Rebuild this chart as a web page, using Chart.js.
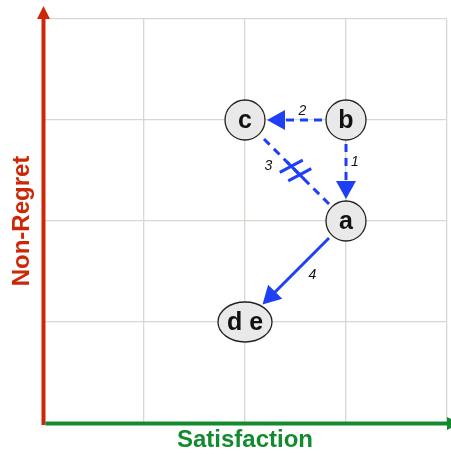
<!DOCTYPE html>
<html>
<head>
<meta charset="utf-8">
<script src="https://cdn.jsdelivr.net/npm/chart.js@4/dist/chart.umd.min.js"></script>
<style>
  body { margin: 0; background: #fff; }
  #wrap { width: 451px; height: 454px; }
</style>
</head>
<body>
<div id="wrap"><canvas id="chart" width="451" height="454"></canvas></div>
<script>
// nodes
var nodeLabels = ['a', 'b', 'c', 'd e'];
var satisfaction = [3, 3, 2, 2];
var nonRegret = [2, 3, 3, 1];

// edges between nodes (indexes into nodeLabels)
var edgeFrom = [1, 1, 0, 0];
var edgeTo = [0, 2, 2, 3];
var edgeLabels = ['1', '2', '3', '4'];
var edgeKind = ['dashed', 'dashed', 'blocked', 'solid'];

var xTitle = 'Satisfaction';
var yTitle = 'Non-Regret';

var RED = '#cc2808';
var GREEN = '#138a2e';
var BLUE = '#1f3ff5';

// drawing stuff (not data)
var nodeRx = [20, 20, 20, 27];
var nodeRy = [20, 20, 20, 20];
var labelOffset = [[9, -8], [7, -9], [-27, -4], [17, 4]];

// ellipse image for the wide node
function ellipseImg(rx, ry) {
    var c = document.createElement('canvas');
    c.width = rx * 2 + 4;
    c.height = ry * 2 + 4;
    var g = c.getContext('2d');
    g.beginPath();
    g.ellipse(c.width / 2, c.height / 2, rx, ry, 0, 0, Math.PI * 2);
    g.fillStyle = '#e9e9e9';
    g.fill();
    g.lineWidth = 1.3;
    g.strokeStyle = '#222';
    g.stroke();
    return c;
}

var styles = [];
var radii = [];
for (let i in nodeLabels) {
    if (nodeRx[i] != nodeRy[i]) {
        styles.push(ellipseImg(nodeRx[i], nodeRy[i]));
    } else {
        styles.push('circle');
    }
    radii.push(nodeRy[i]);
}

function boundary(i, ux, uy) {
    return 1 / Math.sqrt(Math.pow(ux / nodeRx[i], 2) + Math.pow(uy / nodeRy[i], 2));
}

function arrowHead(ctx, x, y, ux, uy, len, hw) {
    ctx.beginPath();
    ctx.moveTo(x, y);
    ctx.lineTo(x - ux * len - uy * hw, y - uy * len + ux * hw);
    ctx.lineTo(x - ux * len + uy * hw, y - uy * len - ux * hw);
    ctx.closePath();
    ctx.fill();
}

var edgePlugin = {
    id: 'edges',
    beforeDatasetsDraw: function (chart) {
        var ctx = chart.ctx;
        var pts = chart.getDatasetMeta(0).data;
        ctx.save();
        ctx.strokeStyle = BLUE;
        ctx.fillStyle = BLUE;
        ctx.lineWidth = 3;
        for (let i in edgeFrom) {
            var a = pts[edgeFrom[i]], b = pts[edgeTo[i]];
            var dx = b.x - a.x, dy = b.y - a.y;
            var d = Math.sqrt(dx * dx + dy * dy);
            var ux = dx / d, uy = dy / d;
            var s = boundary(edgeFrom[i], ux, uy) + 4;
            var e = boundary(edgeTo[i], ux, uy) + 2;
            var sx = a.x + ux * s, sy = a.y + uy * s;
            var tx = b.x - ux * e, ty = b.y - uy * e;
            var kind = edgeKind[i];
            var head = kind != 'blocked';
            var lx = head ? tx - ux * 16 : tx, ly = head ? ty - uy * 16 : ty;
            ctx.setLineDash(kind == 'solid' ? [] : [8, 6]);
            ctx.beginPath();
            ctx.moveTo(sx, sy);
            ctx.lineTo(lx, ly);
            ctx.stroke();
            ctx.setLineDash([]);
            if (head) arrowHead(ctx, tx, ty, ux, uy, 18, 10);
            if (kind == 'blocked') {
                var mx = (a.x + b.x) / 2, my = (a.y + b.y) / 2;
                // bars tilted a bit off the perpendicular
                var px = uy, py = -ux;
                var cs = Math.cos(0.3), sn = Math.sin(0.3);
                var bx = px * cs - py * sn, by = px * sn + py * cs;
                [-6, 6].forEach(function (k) {
                    var cx = mx + ux * k, cy = my + uy * k;
                    ctx.beginPath();
                    ctx.moveTo(cx - bx * 13, cy - by * 13);
                    ctx.lineTo(cx + bx * 13, cy + by * 13);
                    ctx.stroke();
                });
                ctx.beginPath();
                ctx.moveTo(mx - ux * 12, my - uy * 12);
                ctx.lineTo(mx + ux * 12, my + uy * 12);
                ctx.stroke();
            }
            // label
            ctx.fillStyle = '#111';
            ctx.font = 'italic 14px "Liberation Sans", Arial, sans-serif';
            ctx.textAlign = 'center';
            ctx.textBaseline = 'middle';
            ctx.fillText(edgeLabels[i], (a.x + b.x) / 2 + labelOffset[i][0], (a.y + b.y) / 2 + labelOffset[i][1]);
            ctx.fillStyle = BLUE;
        }
        ctx.restore();
    },
    afterDatasetsDraw: function (chart) {
        var ctx = chart.ctx;
        var pts = chart.getDatasetMeta(0).data;
        ctx.save();
        ctx.fillStyle = '#111';
        ctx.font = 'bold 25px "Liberation Sans", Arial, sans-serif';
        ctx.textAlign = 'center';
        ctx.textBaseline = 'middle';
        for (let i in nodeLabels) {
            ctx.fillText(nodeLabels[i], pts[i].x, pts[i].y + 1);
        }
        ctx.restore();
    },
    afterDraw: function (chart) {
        var ctx = chart.ctx;
        var xs = chart.scales.x, ys = chart.scales.y;
        var x0 = xs.getPixelForValue(0), x1 = xs.getPixelForValue(4);
        var y0 = ys.getPixelForValue(0), y1 = ys.getPixelForValue(4);
        ctx.save();
        // y axis
        ctx.fillStyle = RED;
        ctx.fillRect(x0 - 1.5, y1, 4, y0 - y1 + 2);
        ctx.beginPath();
        ctx.moveTo(x0 + 0.5, y1 - 13);
        ctx.lineTo(x0 - 6, y1);
        ctx.lineTo(x0 + 7, y1);
        ctx.closePath();
        ctx.fill();
        // x axis
        ctx.fillStyle = GREEN;
        ctx.fillRect(x0 + 2.5, y0 - 1.5, x1 - x0, 4);
        ctx.beginPath();
        ctx.moveTo(x1 + 13, y0 + 0.5);
        ctx.lineTo(x1, y0 - 6);
        ctx.lineTo(x1, y0 + 7);
        ctx.closePath();
        ctx.fill();
        // titles
        ctx.font = 'bold 24px "Liberation Sans", Arial, sans-serif';
        ctx.textAlign = 'center';
        ctx.textBaseline = 'middle';
        ctx.fillText(xTitle, (x0 + x1) / 2, y0 + 17);
        ctx.fillStyle = RED;
        ctx.translate(x0 - 21, (y0 + y1) / 2);
        ctx.rotate(-Math.PI / 2);
        ctx.fillText(yTitle, 0, 0);
        ctx.restore();
    }
};

var pts = [];
for (let i in nodeLabels) {
    pts.push({ x: satisfaction[i], y: nonRegret[i] });
}

var chart = new Chart(document.getElementById('chart'), {
    type: 'scatter',
    data: {
        datasets: [{
            label: 'nodes',
            data: pts,
            pointStyle: styles,
            pointRadius: radii,
            backgroundColor: '#e9e9e9',
            borderColor: '#222',
            borderWidth: 1.3
        }]
    },
    options: {
        responsive: false,
        animation: false,
        events: [],
        layout: { autoPadding: false, padding: { left: 43, top: 19, right: 4, bottom: 31 } },
        plugins: {
            legend: { display: false },
            tooltip: { enabled: false }
        },
        scales: {
            x: {
                type: 'linear', min: 0, max: 4,
                ticks: { display: false, stepSize: 1 },
                grid: { color: '#d3dbd1', lineWidth: 1.3, drawTicks: false },
                border: { display: false }
            },
            y: {
                type: 'linear', min: 0, max: 4,
                ticks: { display: false, stepSize: 1 },
                grid: { color: '#d3dbd1', lineWidth: 1.3, drawTicks: false },
                border: { display: false }
            }
        }
    },
    plugins: [edgePlugin]
});
</script>
</body>
</html>
